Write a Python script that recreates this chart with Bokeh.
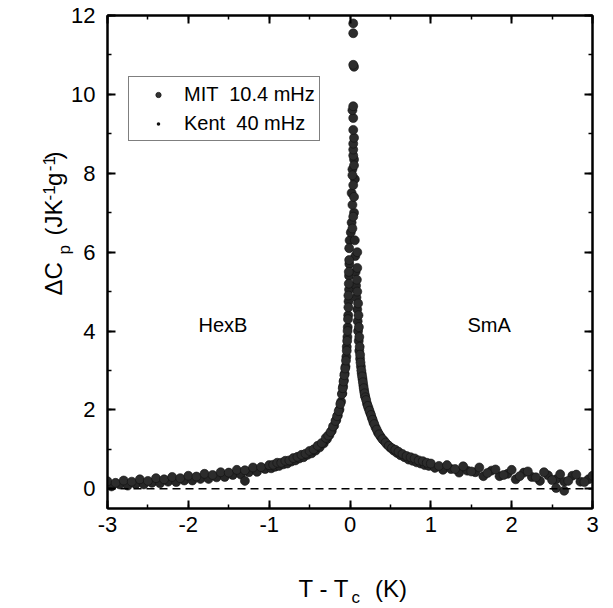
import math
from bokeh.plotting import figure
from bokeh.models import (Range1d, LinearAxis, SingleIntervalTicker, Span, Label,
                          Legend, LegendItem, PrintfTickFormatter)
from bokeh.embed import file_html
from bokeh.resources import INLINE

# ---------------- data ----------------
mit_x = [-3.0, -2.9, -2.8, -2.7, -2.6, -2.5, -2.4, -2.3, -2.2, -2.1, -2.0, -1.9, -1.8, -1.7,
         -1.6, -1.5, -1.4, -1.3, -1.2, -1.1, -1.0,
         -0.95, -0.9, -0.85, -0.8, -0.75, -0.7, -0.65, -0.6, -0.55, -0.5, -0.45, -0.4, -0.35, -0.3,
         -0.27, -0.24, -0.21, -0.18, -0.16, -0.14, -0.12, -0.10, -0.09, -0.08, -0.07, -0.06, -0.05,
         -0.04, -0.035, -0.03, -0.025, -0.02, -0.02, -0.015, -0.015, -0.01, -0.01,
         0.03, 0.04, 0.03, 0.05, 0.04, 0.03, 0.05, 0.04, 0.04, 0.04, 0.05, 0.04, 0.04, 0.03, 0.04,
         0.05, 0.04, 0.04, 0.04,
         0.09, 0.09, 0.085, 0.09, 0.1, 0.105, 0.11, 0.115, 0.12, 0.125, 0.13, 0.14, 0.15, 0.16,
         0.17, 0.18, 0.19, 0.2, 0.22, 0.24, 0.26, 0.28, 0.3, 0.33, 0.36, 0.4, 0.44, 0.48, 0.52,
         0.56, 0.6, 0.65, 0.7, 0.75, 0.8, 0.85, 0.9, 0.95, 1.0,
         1.1, 1.2, 1.3, 1.4, 1.5, 1.6, 1.7, 1.8, 1.9, 2.0, 2.1, 2.2, 2.3, 2.4, 2.5, 2.55, 2.6,
         2.65, 2.7, 2.8, 2.9, 3.0]
mit_y = [0.19, 0.15, 0.21, 0.18, 0.24, 0.20, 0.27, 0.24, 0.30, 0.27, 0.33, 0.31, 0.38, 0.35,
         0.42, 0.41, 0.48, 0.47, 0.54, 0.55, 0.60,
         0.61, 0.66, 0.66, 0.71, 0.72, 0.78, 0.81, 0.86, 0.89, 0.96, 1.00, 1.09, 1.16, 1.29,
         1.35, 1.44, 1.58, 1.72, 1.84, 1.97, 2.15, 2.40, 2.55, 2.72, 2.88, 3.05, 3.25,
         3.5, 3.75, 4.0, 4.3, 4.6, 4.9, 5.2, 5.5, 5.8, 6.1,
         6.6, 6.9, 7.2, 7.4, 7.7, 7.95, 8.2, 8.45, 8.6, 8.75, 8.9, 9.1, 9.4, 9.6, 9.7,
         10.7, 10.75, 11.55, 11.8,
         6.0, 5.6, 5.3, 5.0, 4.7, 4.4, 4.1, 3.85, 3.6, 3.4, 3.2, 3.0, 2.85, 2.7,
         2.55, 2.42, 2.32, 2.25, 2.1, 1.98, 1.87, 1.75, 1.64, 1.5, 1.38, 1.26, 1.17, 1.09, 1.03,
         0.99, 0.94, 0.88, 0.83, 0.80, 0.77, 0.72, 0.70, 0.66, 0.64,
         0.58, 0.60, 0.50, 0.57, 0.44, 0.54, 0.40, 0.49, 0.35, 0.48, 0.32, 0.44, 0.29, 0.42, 0.22,
         0.02, 0.37, -0.05, 0.20, 0.36, 0.17, 0.33]

kent_x = [-2.95, -2.85, -2.75, -2.65, -2.55, -2.45, -2.35, -2.25, -2.15, -2.05, -1.95, -1.85,
          -1.75, -1.65, -1.55, -1.45, -1.35, -1.3, -1.25, -1.15, -1.05,
          -0.975, -0.925, -0.875, -0.825, -0.775, -0.725, -0.675, -0.625, -0.575, -0.525, -0.475,
          -0.425, -0.375, -0.325, -0.285, -0.255, -0.225, -0.195, -0.17, -0.15, -0.13, -0.11,
          -0.095, -0.085, -0.075, -0.065, -0.055, -0.045, -0.04, -0.032, -0.028, -0.022, -0.018,
          -0.012, -0.012, -0.008, -0.005,
          0.01, 0.02, 0.05, 0.02, 0.06, 0.03, 0.05,
          0.06, 0.065, 0.07, 0.075, 0.08, 0.09, 0.095, 0.1, 0.108, 0.115, 0.125, 0.135, 0.145,
          0.155, 0.165, 0.175, 0.185, 0.21, 0.23, 0.25, 0.27, 0.29, 0.315, 0.345, 0.38, 0.42,
          0.46, 0.5, 0.54, 0.58, 0.625, 0.675, 0.725, 0.775, 0.825, 0.875, 0.925, 0.975,
          1.05, 1.15, 1.25, 1.35, 1.45, 1.55, 1.65, 1.75, 1.85, 1.95, 2.05, 2.15, 2.25, 2.35,
          2.45, 2.55, 2.65, 2.75, 2.85, 2.95]
kent_y = [0.06, 0.11, 0.08, 0.12, 0.11, 0.15, 0.14, 0.18, 0.17, 0.21, 0.21, 0.25,
          0.25, 0.29, 0.30, 0.35, 0.36, 0.20, 0.42, 0.43, 0.50,
          0.52, 0.56, 0.58, 0.62, 0.64, 0.69, 0.72, 0.77, 0.80, 0.86, 0.90,
          0.97, 1.05, 1.15, 1.26, 1.36, 1.47, 1.60, 1.74, 1.86, 2.01, 2.21,
          2.42, 2.6, 2.75, 2.92, 3.1, 3.35, 3.6, 3.85, 4.1, 4.4, 4.75,
          5.05, 5.4, 5.7, 6.3,
          6.5, 6.75, 7.0, 7.5, 7.85, 8.1, 8.35,
          6.3, 5.9, 5.5, 5.15, 4.85, 4.55, 4.25, 4.0, 3.75, 3.5, 3.3, 3.1, 2.92,
          2.78, 2.62, 2.48, 2.36, 2.16, 2.04, 1.92, 1.8, 1.68, 1.56, 1.43, 1.32, 1.22,
          1.12, 1.04, 0.97, 0.91, 0.85, 0.80, 0.74, 0.71, 0.67, 0.64, 0.60, 0.58,
          0.53, 0.48, 0.50, 0.41, 0.46, 0.42, 0.32, 0.46, 0.32, 0.38, 0.24, 0.41, 0.30, 0.20,
          0.34, 0.24, 0.18, 0.33, 0.18, 0.24]

series_names = ["MIT  10.4 mHz", "Kent  40 mHz"]
x_ticks_interval = 1
y_ticks_interval = 2
phase_labels = ["HexB", "SmA"]

FONT = "Liberation Sans"
NAN = float("nan")
NB = "\u00a0"

p = figure(width=613, height=608, output_backend="svg", toolbar_location=None,
           x_range=Range1d(-3, 3), y_range=Range1d(-0.5, 12),
           min_border_left=107, min_border_right=21, min_border_top=15, min_border_bottom=100,
           background_fill_color="white", border_fill_color="white")
p.grid.visible = False
p.outline_line_color = "black"
p.outline_line_width = 2

xt = SingleIntervalTicker(interval=x_ticks_interval, num_minor_ticks=2)
yt = SingleIntervalTicker(interval=y_ticks_interval, num_minor_ticks=2)


def style_axis(ax, labels=True):
    ax.axis_line_color = "black"
    ax.axis_line_width = 2
    ax.major_tick_in = 8
    ax.major_tick_out = 0
    ax.minor_tick_in = 4
    ax.minor_tick_out = 0
    ax.major_tick_line_width = 2
    ax.minor_tick_line_width = 1.5
    ax.major_tick_line_color = "black"
    ax.minor_tick_line_color = "black"
    ax.formatter = PrintfTickFormatter(format="%d")
    if labels:
        ax.major_label_text_font = FONT
        ax.major_label_text_font_size = "22px"
        ax.major_label_text_color = "black"
    else:
        ax.major_label_text_font_size = "0px"
        ax.major_label_standoff = 0
        ax.major_label_text_color = None


p.xaxis.ticker = xt
p.yaxis.ticker = yt
for ax in p.xaxis:
    style_axis(ax)
    ax.major_label_standoff = 8
for ax in p.yaxis:
    style_axis(ax)
    ax.major_label_standoff = 12

top = LinearAxis(ticker=xt)
style_axis(top, labels=False)
p.add_layout(top, "above")
right = LinearAxis(ticker=yt)
style_axis(right, labels=False)
p.add_layout(right, "right")

# zero line
p.add_layout(Span(location=0, dimension="width", line_color="black", line_width=1.5,
                  line_dash="8 5"))

# data
p.scatter(kent_x, kent_y, size=9, marker="circle", fill_color="#262626",
          line_color="#111111", line_width=0.6)
p.scatter(mit_x, mit_y, size=9, marker="circle", fill_color="#2c2c2c",
          line_color="#111111", line_width=0.6)

# legend proxies (not in view)
r_mit = p.scatter([NAN], [NAN], marker="circle", fill_color="#333333", line_color="#222222",
                  line_width=1)
r_kent = p.scatter([NAN], [NAN], marker="circle", fill_color="#111111", line_color="white",
                   line_width=1.6)
legend = Legend(items=[LegendItem(label=series_names[0], renderers=[r_mit]),
                       LegendItem(label=series_names[1], renderers=[r_kent])],
                location=(21, 367), orientation="vertical",
                label_text_font=FONT, label_text_font_size="20px", label_text_color="black",
                glyph_width=50, glyph_height=13, label_height=26, label_standoff=1,
                spacing=3, padding=4, margin=0,
                border_line_color="black", border_line_width=1.5,
                background_fill_color="white", background_fill_alpha=1)
p.add_layout(legend, "center")

# phase labels
for txt, lx in zip(phase_labels, [-1.874, 1.454]):
    p.add_layout(Label(x=lx, y=4.14, text=txt, text_font=FONT, text_color="black",
                       text_font_size="20px", text_align="left", text_baseline="alphabetic"))


# axis titles: labels positioned in data units, attached to side panels (not clipped);
# each piece goes to a panel where its footprint fits in the border
def lab(t, lx, ly, fs, side, angle=0.0):
    p.add_layout(Label(x=lx, y=ly, text=t, angle=angle, text_font=FONT, text_font_size=fs,
                       text_color="black", text_align="left", text_baseline="alphabetic"),
                 side)


ROT = math.pi / 2
# x title: T - T_c  (K)
lab("T - T" + NB * 4 + "(K)", -0.637, -2.528, "24px", "below")
lab("c", 0.019, -2.757, "17px", "right")
# y title: ΔC_p  (JK^-1 g^-1)
lab("ΔC" + NB * 4 + "(JK" + NB * 2 + "g" + NB * 2 + ")", -3.668, 4.901, "24px", "left", ROT)
lab("-1" + NB * 3 + "-1", -3.718, 7.309, "17px", "left", ROT)
lab("p", -3.532, 5.940, "17px", "above", ROT)

open("out.html", "w").write(file_html(p, INLINE))
